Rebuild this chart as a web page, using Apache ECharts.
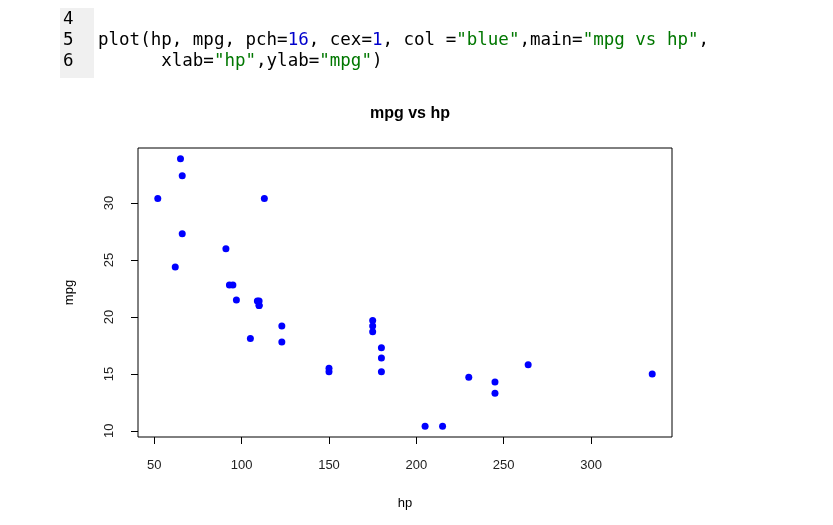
<!DOCTYPE html>
<html><head><meta charset="utf-8">
<script src="https://cdn.jsdelivr.net/npm/echarts@6/dist/echarts.min.js"></script>
<style>html,body{margin:0;background:#fff}#c{width:833px;height:525px}</style>
</head><body><div id="c"></div>
<script>
// mtcars: hp vs mpg
const hp  = [110,110,93,110,175,105,245,62,95,123,123,180,180,180,205,215,230,66,52,65,97,150,150,245,175,66,91,113,264,175,335,109];
const mpg = [21.0,21.0,22.8,21.4,18.7,18.1,14.3,24.4,22.8,19.2,17.8,16.4,17.3,15.2,10.4,10.4,14.7,32.4,30.4,33.9,21.5,15.5,15.2,13.3,19.2,27.3,26.0,30.4,15.8,19.7,15.0,21.4];
const xTicks = [50,100,150,200,250,300];
const yTicks = [10,15,20,25,30];

// R pads the data range by 4% each side
const pad = (a) => { const lo = Math.min(...a), hi = Math.max(...a), d = (hi - lo) * 0.04; return [lo - d, hi + d]; };
const [xmin, xmax] = pad(hp);
const [ymin, ymax] = pad(mpg);

const font = 'Liberation Sans, Arial, sans-serif';
const mono = 'DejaVu Sans Mono, monospace';
const f = '17.5px ' + mono;
const chart = echarts.init(document.getElementById('c'));
chart.setOption({
  animation: false,
  title: {text: 'mpg vs hp', left: 405, textAlign: 'center', top: 101, textStyle: {fontFamily: font, fontSize: 16, fontWeight: 'bold', color: '#000'}},
  grid: {left: 138, right: 161, top: 148, bottom: 88, show: true, borderColor: '#000', borderWidth: 1},
  xAxis: {
    type: 'value', min: xmin, max: xmax,
    name: 'hp', nameLocation: 'middle', nameGap: 60,
    nameTextStyle: {fontFamily: font, fontSize: 13, color: '#000'},
    axisLine: {show: false}, splitLine: {show: false},
    axisTick: {show: true, length: 7, customValues: xTicks, lineStyle: {color: '#000'}},
    axisLabel: {customValues: xTicks, margin: 22, fontFamily: font, fontSize: 13, color: '#222'}
  },
  yAxis: {
    type: 'value', min: ymin, max: ymax,
    name: 'mpg', nameLocation: 'middle', nameGap: 62, nameRotate: 90,
    nameTextStyle: {fontFamily: font, fontSize: 13, color: '#000'},
    axisLine: {show: false}, splitLine: {show: false},
    axisTick: {show: true, length: 7, customValues: yTicks, lineStyle: {color: '#000'}},
    axisLabel: {customValues: yTicks, rotate: 90, margin: 22, fontFamily: font, fontSize: 13, color: '#222', align: 'center'}
  },
  series: [{
    type: 'scatter', symbolSize: 7, itemStyle: {color: '#0000ff', opacity: 1},
    data: hp.map((h, i) => [h, mpg[i]])
  }],
  graphic: [
    {type: 'rect', shape: {x: 60, y: 8, width: 34, height: 70}, style: {fill: '#f0f0f0'}},
    {type: 'text', left: 63, top: 9, style: {text: '4\n5\n6', font: f, lineHeight: 21, fill: '#000'}},
    {type: 'text', left: 98, top: 30, style: {
      text: '{k|plot(hp, mpg, pch=}{n|16}{k|, cex=}{n|1}{k|, col =}{s|"blue"}{k|,main=}{s|"mpg vs hp"}{k|,}\n{k|      xlab=}{s|"hp"}{k|,ylab=}{s|"mpg"}{k|)}',
      font: f, lineHeight: 21,
      rich: {k: {fill: '#000', font: f, lineHeight: 21}, n: {fill: '#0000cc', font: f, lineHeight: 21}, s: {fill: '#007700', font: f, lineHeight: 21}}
    }}
  ]
});
</script></body></html>
